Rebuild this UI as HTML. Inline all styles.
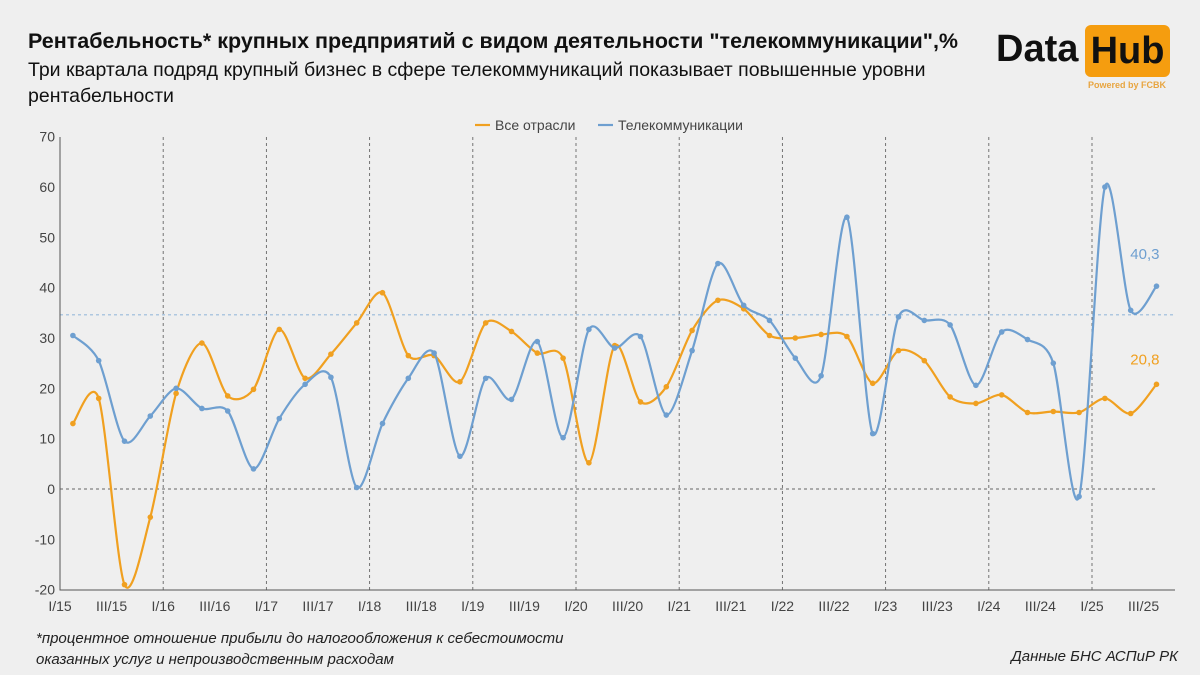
<!DOCTYPE html>
<html><head><meta charset="utf-8"><style>
body{margin:0;background:#efefef;font-family:"Liberation Sans",sans-serif;}
#wrap{position:relative;width:1200px;height:675px;overflow:hidden;background:#efefef;}
.t{position:absolute;white-space:nowrap;}
</style></head><body>
<div id="wrap">
<div class="t" style="left:28px;top:29px;font-size:21.5px;font-weight:bold;color:#111;">Рентабельность* крупных предприятий с видом деятельности "телекоммуникации",%</div>
<div class="t" style="left:28px;top:57px;font-size:19.5px;color:#111;line-height:26px;">Три квартала подряд крупный бизнес в сфере телекоммуникаций показывает повышенные уровни<br>рентабельности</div>
<div class="t" style="left:996px;top:28px;font-size:38px;font-weight:bold;color:#111;">Data</div>
<div class="t" style="left:1085px;top:25px;width:85px;height:52px;background:#f59d0f;border-radius:6px;font-size:38px;font-weight:bold;color:#111;text-align:center;line-height:52px;">Hub</div>
<div class="t" style="left:1088px;top:80px;font-size:9px;font-weight:bold;color:#e8a540;">Powered by FCBK</div>
<div class="t" style="left:36px;top:628px;font-size:15px;font-style:italic;color:#222;line-height:21px;">*процентное отношение прибыли до налогообложения к себестоимости<br>оказанных услуг и непроизводственным расходам</div>
<div class="t" style="right:22px;top:648px;font-size:15px;font-style:italic;color:#222;">Данные БНС АСПиР РК</div>
<svg id="chart" width="1200" height="675" style="position:absolute;left:0;top:0"></svg>
</div>
<script>
const categories=["I/15","II/15","III/15","IV/15","I/16","II/16","III/16","IV/16","I/17","II/17","III/17","IV/17","I/18","II/18","III/18","IV/18","I/19","II/19","III/19","IV/19","I/20","II/20","III/20","IV/20","I/21","II/21","III/21","IV/21","I/22","II/22","III/22","IV/22","I/23","II/23","III/23","IV/23","I/24","II/24","III/24","IV/24","I/25","II/25","III/25"];
const allSectors=[13,18,-19,-5.6,19,29,18.5,19.8,31.7,22,26.8,33,39,26.5,26.5,21.3,33,31.3,27,26,5.2,28.5,17.3,20.3,31.5,37.5,35.8,30.5,30,30.7,30.3,21,27.5,25.5,18.3,17,18.7,15.2,15.4,15.2,18,15,20.8];
const telecom=[30.5,25.5,9.5,14.5,20,16,15.5,4,14,20.8,22.2,0.3,13,22,27,6.5,22,17.8,29.3,10.2,31.7,28,30.3,14.7,27.5,44.8,36.5,33.5,26,22.5,54,11,34.2,33.5,32.6,20.6,31.2,29.7,25,-1.5,60,35.5,40.3];
const yTicks=[-20,-10,0,10,20,30,40,50,60,70];
const refLine=34.6;
const svg=document.getElementById('chart');const NS='http://www.w3.org/2000/svg';
const X0=60,BW=25.8,Y0=489,YS=5.033;
const x=i=>X0+(i+0.5)*BW, y=v=>Y0-v*YS;
function mk(t,a,p){const e=document.createElementNS(NS,t);for(const k in a)e.setAttribute(k,a[k]);(p||svg).appendChild(e);return e;}
yTicks.forEach(v=>{const e=mk('text',{x:55,y:y(v)+5,'text-anchor':'end','font-size':14,fill:'#444'});e.textContent=v;

});
categories.forEach((c,i)=>{if(i%4===0&&i>0){const l=mk('line',{x1:X0+i*BW,x2:X0+i*BW,y1:137,y2:590,stroke:'#666','stroke-dasharray':'3,3','stroke-width':0.9});

}
if(i%2===0){const e=mk('text',{x:X0+i*BW,y:611,'text-anchor':'middle','font-size':14,fill:'#444'});e.textContent=c;

}});
const z=mk('line',{x1:X0,x2:1155,y1:y(0),y2:y(0),stroke:'#666','stroke-dasharray':'3,3','stroke-width':0.9});


const r=mk('line',{x1:X0,x2:1175,y1:y(refLine),y2:y(refLine),stroke:'#6e9fd0','stroke-dasharray':'3,3','stroke-width':0.8});


const ax=mk('path',{d:`M${X0} 137V590H1175`,stroke:'#555',fill:'none','stroke-width':1});


function curve(d){const p=d.map((v,i)=>[x(i),y(v)]);let s=`M${p[0][0]} ${p[0][1]}`;const k=7;
for(let i=0;i<p.length-1;i++){const p0=p[i-1]||p[i],p1=p[i],p2=p[i+1],p3=p[i+2]||p2;
s+=`C${p1[0]+(p2[0]-p0[0])/k} ${p1[1]+(p2[1]-p0[1])/k} ${p2[0]-(p3[0]-p1[0])/k} ${p2[1]-(p3[1]-p1[1])/k} ${p2[0]} ${p2[1]}`;}return s;}
function series(d,col,name){const g=mk('g',{});


mk('path',{d:curve(d),stroke:col,fill:'none','stroke-width':2.2},g);
d.forEach((v,i)=>{const c=mk('circle',{cx:x(i),cy:y(v),r:2.8,fill:col},g);

});}
series(allSectors,'#f0a020','series-all-sectors');
series(telecom,'#6e9fd0','series-telecom');
const n=categories.length-1;
const l1=mk('text',{x:x(n)+3,y:y(telecom[n])-27,'text-anchor':'end','font-size':15,fill:'#6e9fd0'});l1.textContent=String(telecom[n]).replace('.',',');


const l2=mk('text',{x:x(n)+3,y:y(allSectors[n])-20,'text-anchor':'end','font-size':15,fill:'#f0a020'});l2.textContent=String(allSectors[n]).replace('.',',');


const lg=mk('g',{});


mk('line',{x1:475,x2:490,y1:125,y2:125,stroke:'#f0a020','stroke-width':2.2},lg);
let t=mk('text',{x:495,y:130,'font-size':14,fill:'#444'},lg);t.textContent='Все отрасли';
mk('line',{x1:598,x2:613,y1:125,y2:125,stroke:'#6e9fd0','stroke-width':2.2},lg);
t=mk('text',{x:618,y:130,'font-size':14,fill:'#444'},lg);t.textContent='Телекоммуникации';
</script>
</body></html>
